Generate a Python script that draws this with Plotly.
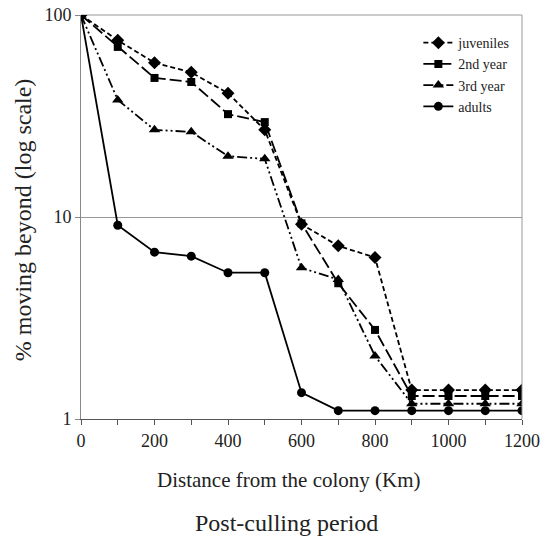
import plotly.graph_objects as go

distance = [0, 100, 200, 300, 400, 500, 600, 700, 800, 900, 1000, 1100, 1200]
juveniles = [100, 75, 58, 52, 41, 27, 9.2, 7.2, 6.3, 1.39, 1.39, 1.39, 1.39]
second_year = [100, 69.5, 48.8, 46.6, 32.3, 29.5, 9.3, 4.7, 2.76, 1.30, 1.30, 1.30, 1.30]
third_year = [100, 38, 27, 26.4, 20, 19.4, 5.6, 4.9, 2.05, 1.19, 1.19, 1.19, 1.19]
adults = [100, 9.1, 6.7, 6.4, 5.3, 5.3, 1.35, 1.10, 1.10, 1.10, 1.10, 1.10, 1.10]

x_tick_vals = [0, 100, 200, 300, 400, 500, 600, 700, 800, 900, 1000, 1100, 1200]
x_tick_text = ["0", "", "200", "", "400", "", "600", "", "800", "", "1000", "", "1200"]
y_tick_vals = [1, 10, 100]
y_tick_text = ["1", "10", "100"]

series = [
    ("juveniles", juveniles, "5px,3px", "diamond", 10),
    ("2nd year", second_year, "12px,4px", "square", 8),
    ("3rd year", third_year, "10px,3px,2px,3px,2px,3px", "triangle-up", 10),
    ("adults", adults, "solid", "circle", 9),
]

fig = go.Figure()
for name, vals, dash, sym, sz in series:
    fig.add_trace(go.Scatter(
        x=distance, y=vals, name=name, mode="lines+markers",
        line=dict(color="black", width=1.8, dash=dash),
        marker=dict(symbol=sym, size=sz, color="black"),
    ))

font = "'Liberation Serif', 'Times New Roman', Times, serif"
fig.update_layout(
    width=548, height=545, autosize=False,
    margin=dict(l=81, r=26, t=15, b=126),
    paper_bgcolor="white", plot_bgcolor="white",
    font=dict(family=font, size=18, color="#222"),
    showlegend=True,
    legend=dict(x=0.765, y=0.97, xanchor="left", yanchor="top",
                bgcolor="rgba(0,0,0,0)", font=dict(family=font, size=14),
                tracegroupgap=0, itemwidth=30),
    xaxis=dict(range=[0, 1200], tickvals=x_tick_vals, ticktext=x_tick_text,
               ticks="outside", ticklen=5, tickcolor="#555", showgrid=False,
               showline=True, linecolor="#555", linewidth=1, zeroline=False,
               automargin=False, ticklabeloverflow="allow",
               tickfont=dict(family=font, size=18)),
    yaxis=dict(type="log", range=[0, 2], tickvals=y_tick_vals, ticktext=y_tick_text,
               ticks="outside", ticklen=5, tickcolor="#888", showgrid=True,
               gridcolor="#999", gridwidth=1, showline=True, linecolor="#888",
               zeroline=False, automargin=False, ticklabeloverflow="allow",
               tickfont=dict(family=font, size=18)),
    annotations=[
        dict(text="% moving beyond (log scale)", xref="paper", yref="paper",
             x=-0.1315, y=0.492, xanchor="center", yanchor="middle", textangle=-90,
             showarrow=False, font=dict(family=font, size=24, color="#222")),
        dict(text="Distance from the colony (Km)", xref="paper", yref="paper",
             x=0.472, y=-0.151, xanchor="center", yanchor="middle", showarrow=False,
             font=dict(family=font, size=21, color="#222")),
        dict(text="Post-culling period", xref="paper", yref="paper",
             x=0.466, y=-0.257, xanchor="center", yanchor="middle", showarrow=False,
             font=dict(family=font, size=24, color="#222")),
    ],
    shapes=[
        dict(type="line", xref="paper", yref="paper", x0=1, x1=1, y0=0, y1=1,
             line=dict(color="#999", width=1)),
        dict(type="line", xref="paper", yref="paper", x0=0, x1=1, y0=1, y1=1,
             line=dict(color="#999", width=1), layer="below"),
    ],
)

fig.write_html("out.html", config={"displayModeBar": False},
               post_script="document.body.style.margin='0';")
